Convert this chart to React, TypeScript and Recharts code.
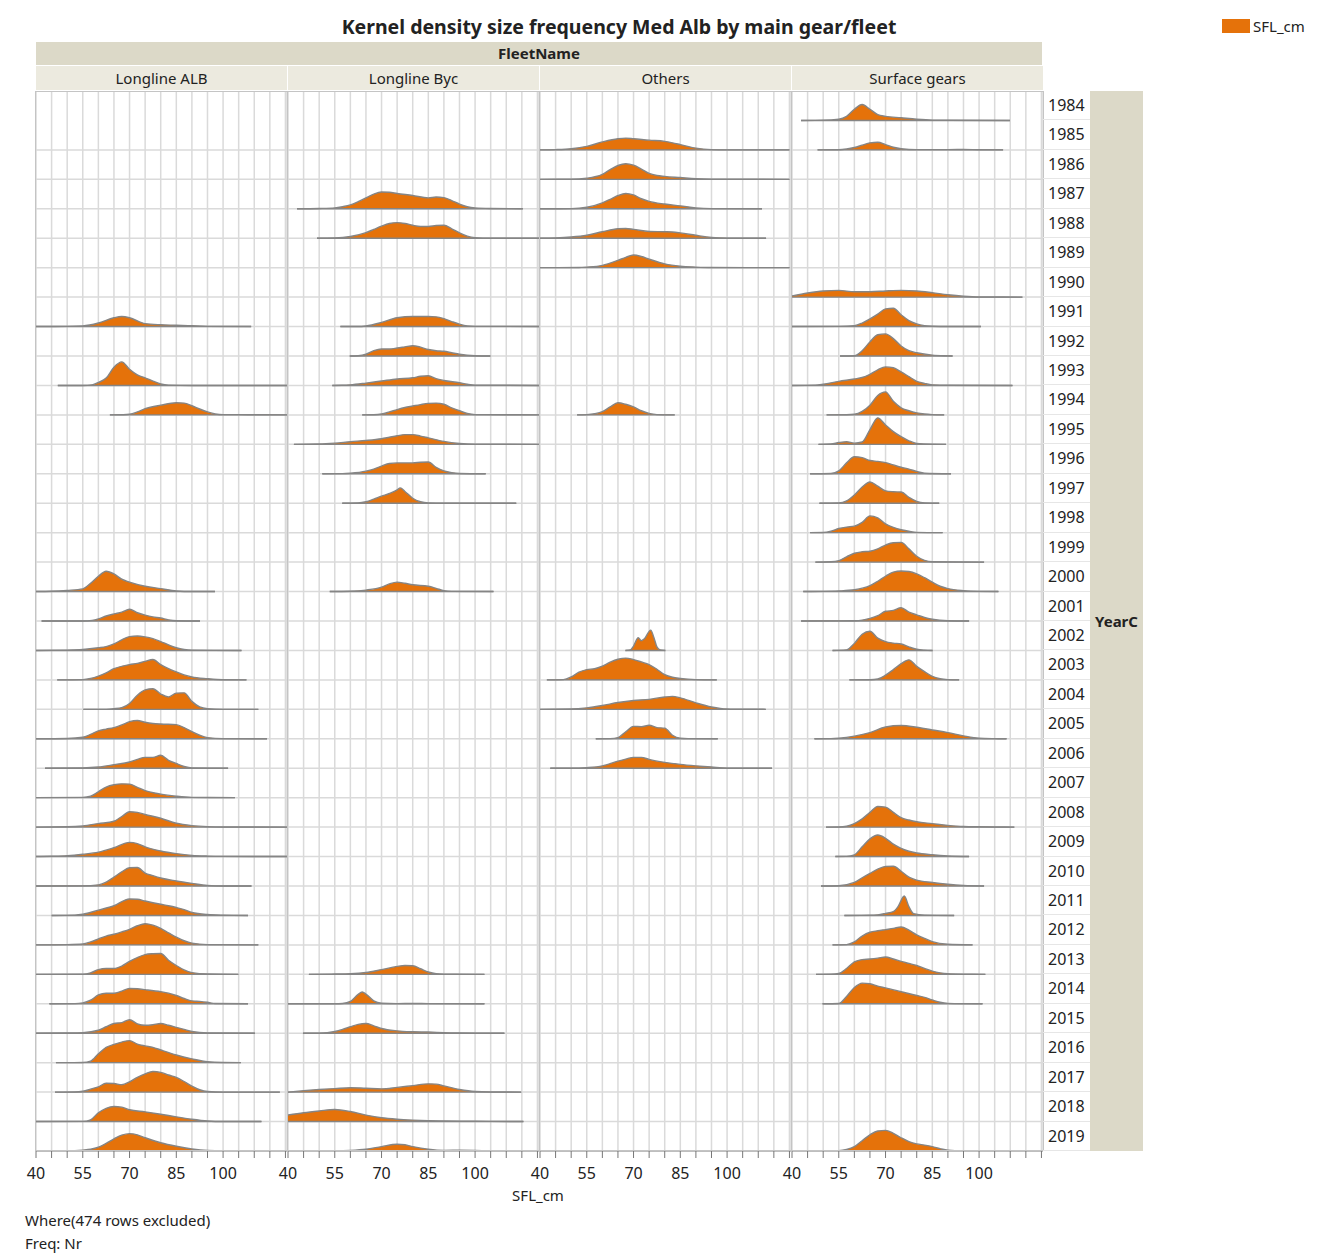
import React from 'react';
import { ComposedChart, Area, XAxis, YAxis, CartesianGrid } from 'recharts';

// categories
const years = [1984, 1985, 1986, 1987, 1988, 1989, 1990, 1991, 1992, 1993, 1994, 1995, 1996, 1997, 1998, 1999, 2000, 2001,
  2002, 2003, 2004, 2005, 2006, 2007, 2008, 2009, 2010, 2011, 2012, 2013, 2014, 2015, 2016, 2017, 2018, 2019];
const fleetNames = ['Longline ALB', 'Longline Byc', 'Others', 'Surface gears'];
const xTicks = [40, 45, 50, 55, 60, 65, 70, 75, 80, 85, 90, 95, 100, 105, 110, 115, 120];
const xLabels = [40, 55, 70, 85, 100];

// kernel density per year: [SFL_cm, density]
type Curve = { year: number; pts: number[][] };

const longlineAlb: Curve[] = [
  { year: 1991, pts: [[40,0],[50,0.005],[55,0.02],[60,0.12],[65,0.3],[67.5,0.34],[70,0.3],[75,0.1],[80,0.06],[85,0.045],[90,0.025],[95,0.005],[109,0]] },
  { year: 1993, pts: [[47,0],[55,0],[58,0.02],[60,0.1],[62.5,0.25],[65,0.62],[67.5,0.8],[70,0.55],[72.5,0.36],[75,0.26],[77.5,0.15],[80,0.05],[82.5,0.01],[90,0],[120.5,0]] },
  { year: 1994, pts: [[63.7,0],[68,0.005],[70,0.02],[72.5,0.1],[75,0.21],[80,0.33],[85,0.41],[87.5,0.4],[90,0.31],[92.5,0.2],[95,0.1],[97.5,0.03],[100,0.01],[105,0.01],[110,0.005],[120.5,0]] },
  { year: 2000, pts: [[40,0],[45,0.01],[50,0.04],[55,0.09],[57.5,0.28],[60,0.52],[62.5,0.69],[65,0.6],[67.5,0.42],[70,0.32],[75,0.18],[80,0.1],[85,0.02],[90,0],[97.4,0]] },
  { year: 2001, pts: [[41.8,0],[55,0],[58,0.02],[60,0.07],[62.5,0.17],[65,0.24],[67.5,0.3],[70,0.4],[72.5,0.28],[75,0.2],[77.5,0.14],[80,0.1],[82.5,0.04],[85,0.01],[92.6,0]] },
  { year: 2002, pts: [[40,0],[50,0.01],[55,0.03],[60,0.09],[62.5,0.13],[65,0.22],[67.5,0.36],[70,0.47],[72.5,0.49],[75,0.46],[77.5,0.4],[80,0.3],[82.5,0.19],[85,0.09],[87.5,0.03],[90,0.005],[105.9,0]] },
  { year: 2003, pts: [[46.8,0],[55,0.01],[57.5,0.05],[60,0.13],[62.5,0.24],[65,0.38],[70,0.52],[72.5,0.56],[75,0.63],[77.5,0.69],[80,0.52],[82.5,0.38],[85,0.27],[87.5,0.17],[90,0.1],[95,0.04],[100,0.005],[107.5,0]] },
  { year: 2004, pts: [[55.2,0],[62.5,0],[65,0.02],[67.5,0.06],[70,0.2],[72.5,0.48],[75,0.66],[77.5,0.7],[80,0.52],[82.5,0.42],[85,0.55],[87.5,0.56],[90,0.27],[92.5,0.08],[95,0.02],[100,0],[111.3,0]] },
  { year: 2005, pts: [[40,0],[50,0.01],[55,0.05],[57.5,0.15],[60,0.27],[62.5,0.33],[65,0.38],[67.5,0.47],[70,0.58],[72.5,0.62],[75,0.56],[77.5,0.52],[80,0.5],[85,0.48],[87.5,0.38],[90,0.24],[92.5,0.12],[95,0.04],[100,0.005],[114.1,0]] },
  { year: 2006, pts: [[42.9,0],[55,0.01],[60,0.04],[65,0.12],[70,0.21],[72.5,0.3],[75,0.37],[77.5,0.37],[80,0.44],[82.5,0.27],[85,0.16],[87.5,0.06],[90,0.01],[101.6,0]] },
  { year: 2007, pts: [[40,0],[55,0.01],[57.5,0.05],[60,0.2],[62.5,0.36],[65,0.44],[67.5,0.47],[70,0.46],[72.5,0.35],[75,0.24],[80,0.12],[85,0.05],[90,0.01],[103.8,0]] },
  { year: 2008, pts: [[40,0],[50,0.01],[55,0.04],[60,0.12],[65,0.2],[67.5,0.36],[70,0.52],[72.5,0.5],[75,0.43],[80,0.3],[85,0.13],[90,0.05],[95,0.015],[100,0.005],[120.5,0]] },
  { year: 2009, pts: [[40,0],[45,0.01],[50,0.03],[55,0.08],[60,0.15],[65,0.3],[70,0.48],[72.5,0.44],[75,0.33],[80,0.19],[85,0.1],[90,0.04],[95,0.015],[100,0.005],[120.5,0]] },
  { year: 2010, pts: [[40,0],[55,0.005],[60,0.04],[62.5,0.13],[65,0.3],[67.5,0.48],[70,0.62],[72.5,0.63],[75,0.44],[77.5,0.35],[80,0.27],[85,0.17],[90,0.09],[95,0.02],[100,0],[109.1,0]] },
  { year: 2011, pts: [[45,0],[52.5,0.01],[55,0.04],[60,0.18],[65,0.33],[70,0.56],[72.5,0.55],[75,0.49],[80,0.38],[82.5,0.33],[85,0.27],[87.5,0.2],[90,0.1],[95,0.03],[100,0.01],[108,0]] },
  { year: 2012, pts: [[40,0],[50,0.01],[55,0.03],[57.5,0.1],[60,0.2],[62.5,0.3],[65,0.36],[67.5,0.44],[70,0.53],[72.5,0.65],[75,0.72],[77.5,0.67],[80,0.56],[82.5,0.41],[85,0.26],[87.5,0.14],[90,0.06],[95,0.01],[111.3,0]] },
  { year: 2013, pts: [[40,0],[55,0.005],[57.5,0.05],[60,0.16],[62.5,0.2],[65,0.2],[67.5,0.28],[70,0.44],[72.5,0.57],[75,0.67],[77.5,0.7],[80,0.71],[82.5,0.48],[85,0.3],[87.5,0.15],[90,0.06],[95,0.01],[104.9,0]] },
  { year: 2014, pts: [[44.3,0],[52.5,0.005],[55,0.03],[57.5,0.12],[60,0.3],[62.5,0.36],[65,0.36],[67.5,0.43],[70,0.52],[72.5,0.51],[75,0.48],[80,0.41],[82.5,0.36],[85,0.28],[87.5,0.18],[90,0.1],[92.5,0.08],[95,0.05],[97.5,0.01],[108,0]] },
  { year: 2015, pts: [[40,0],[50,0.01],[55,0.02],[60,0.1],[62.5,0.22],[65,0.33],[67.5,0.36],[70,0.46],[72.5,0.32],[75,0.27],[77.5,0.29],[80,0.33],[82.5,0.27],[85,0.2],[87.5,0.13],[90,0.06],[95,0.01],[110.2,0]] },
  { year: 2016, pts: [[46.4,0],[55,0.005],[57.5,0.05],[60,0.3],[62.5,0.52],[65,0.62],[67.5,0.7],[70,0.75],[72.5,0.63],[75,0.57],[77.5,0.52],[80,0.43],[85,0.26],[90,0.13],[95,0.03],[100,0.005],[105.7,0]] },
  { year: 2017, pts: [[46.1,0],[52.5,0.005],[55,0.03],[57.5,0.1],[60,0.18],[62.5,0.3],[65,0.29],[67.5,0.25],[70,0.35],[72.5,0.5],[75,0.62],[77.5,0.7],[80,0.67],[82.5,0.58],[85,0.5],[87.5,0.36],[90,0.2],[92.5,0.08],[95,0.02],[100,0],[118.2,0]] },
  { year: 2018, pts: [[40,0],[55,0.005],[57.5,0.06],[60,0.3],[62.5,0.45],[65,0.51],[67.5,0.49],[70,0.4],[75,0.33],[80,0.25],[85,0.16],[90,0.08],[95,0.02],[100,0],[112.3,0]] },
  { year: 2019, pts: [[49.3,0],[52.5,0.01],[55,0.03],[57.5,0.06],[60,0.13],[62.5,0.26],[65,0.41],[67.5,0.54],[70,0.59],[72.5,0.55],[75,0.45],[80,0.28],[85,0.16],[90,0.07],[95,0.015],[100,0],[114.5,0]] },
];

const longlineByc: Curve[] = [
  { year: 1987, pts: [[42.9,0],[50,0.01],[55,0.03],[57.5,0.07],[60,0.13],[62.5,0.24],[65,0.37],[67.5,0.5],[70,0.57],[72.5,0.56],[75,0.52],[80,0.45],[85,0.37],[87.5,0.4],[90,0.38],[92.5,0.28],[95,0.16],[97.5,0.07],[100,0.03],[105,0.01],[115.3,0]] },
  { year: 1988, pts: [[49.3,0],[55,0.01],[60,0.06],[65,0.19],[67.5,0.3],[70,0.41],[72.5,0.5],[75,0.53],[77.5,0.5],[80,0.44],[82.5,0.4],[85,0.4],[87.5,0.43],[90,0.44],[92.5,0.32],[95,0.18],[97.5,0.07],[100,0.02],[105,0],[120.5,0]] },
  { year: 1991, pts: [[56.8,0],[62.5,0],[65,0.02],[70,0.14],[75,0.3],[80,0.34],[85,0.34],[87.5,0.33],[90,0.27],[92.5,0.17],[95,0.08],[97.5,0.02],[100,0.005],[110,0.005],[120.5,0]] },
  { year: 1992, pts: [[59.8,0],[62.5,0.01],[65,0.06],[67.5,0.18],[70,0.24],[72.5,0.24],[75,0.27],[77.5,0.31],[80,0.35],[82.5,0.3],[85,0.22],[87.5,0.18],[90,0.16],[92.5,0.11],[95,0.06],[100,0.01],[104.9,0]] },
  { year: 1993, pts: [[54.2,0],[57.5,0.005],[60,0.02],[65,0.08],[70,0.15],[75,0.22],[80,0.26],[82.5,0.31],[85,0.33],[87.5,0.23],[90,0.17],[95,0.09],[97.5,0.04],[100,0.01],[120.5,0]] },
  { year: 1994, pts: [[63.8,0],[67.5,0.005],[70,0.03],[72.5,0.1],[75,0.18],[77.5,0.25],[80,0.3],[82.5,0.35],[85,0.39],[87.5,0.4],[90,0.36],[92.5,0.24],[95,0.14],[97.5,0.05],[100,0.01],[110,0.005],[120.5,0]] },
  { year: 1995, pts: [[41.9,0],[50,0.01],[55,0.04],[60,0.09],[65,0.13],[70,0.19],[72.5,0.24],[75,0.29],[77.5,0.33],[80,0.33],[82.5,0.28],[85,0.22],[90,0.1],[95,0.03],[100,0.005],[120.5,0]] },
  { year: 1996, pts: [[51,0],[57.5,0.005],[60,0.02],[65,0.09],[67.5,0.16],[70,0.26],[72.5,0.35],[75,0.37],[80,0.37],[82.5,0.39],[85,0.4],[87.5,0.22],[90,0.1],[92.5,0.04],[95,0.01],[103.4,0]] },
  { year: 1997, pts: [[57.4,0],[62.5,0.01],[65,0.05],[67.5,0.14],[70,0.24],[72.5,0.33],[75,0.45],[76,0.52],[77.5,0.4],[80,0.17],[82.5,0.05],[85,0.01],[90,0],[113.2,0]] },
  { year: 2000, pts: [[53.4,0],[60,0.01],[65,0.05],[70,0.15],[72.5,0.26],[75,0.32],[77.5,0.28],[80,0.23],[85,0.18],[87.5,0.11],[90,0.03],[92.5,0.005],[105.9,0]] },
  { year: 2013, pts: [[46.7,0],[55,0.01],[60,0.02],[65,0.06],[70,0.16],[75,0.27],[77.5,0.3],[80,0.29],[82.5,0.19],[85,0.08],[87.5,0.02],[90,0.005],[103,0]] },
  { year: 2014, pts: [[40,0],[55,0],[57.5,0.01],[60,0.08],[62.5,0.32],[63.8,0.4],[65,0.33],[67.5,0.1],[70,0.02],[75,0.005],[80,0.01],[85,0.005],[103,0]] },
  { year: 2015, pts: [[44.8,0],[50,0.005],[55,0.06],[57.5,0.13],[60,0.22],[62.5,0.3],[65,0.33],[67.5,0.25],[70,0.16],[75,0.08],[80,0.05],[85,0.04],[90,0.02],[95,0.01],[100,0.005],[109.4,0]] },
  { year: 2017, pts: [[40,0],[45,0.05],[50,0.09],[55,0.12],[60,0.15],[65,0.13],[70,0.11],[75,0.16],[80,0.22],[85,0.28],[87.5,0.27],[90,0.21],[95,0.09],[100,0.02],[105,0.005],[114.8,0]] },
  { year: 2018, pts: [[40,0.22],[45,0.3],[50,0.36],[55,0.41],[60,0.34],[65,0.22],[70,0.13],[75,0.08],[80,0.05],[85,0.03],[90,0.02],[95,0.015],[100,0.01],[105,0.005],[115.5,0]] },
  { year: 2019, pts: [[47,0],[55,0.005],[60,0.02],[65,0.06],[70,0.15],[75,0.23],[77.5,0.21],[80,0.15],[85,0.06],[90,0.02],[95,0.025],[100,0.02],[105,0.005],[115.3,0]] },
];

const others: Curve[] = [
  { year: 1985, pts: [[40,0],[45,0.01],[50,0.04],[55,0.12],[60,0.27],[65,0.38],[67.5,0.4],[70,0.38],[75,0.33],[80,0.29],[82.5,0.24],[85,0.18],[90,0.06],[95,0.01],[100,0],[120,0]] },
  { year: 1986, pts: [[40,0],[50,0.005],[55,0.04],[60,0.17],[62.5,0.33],[65,0.47],[67.5,0.53],[70,0.48],[72.5,0.35],[75,0.2],[77.5,0.13],[80,0.1],[85,0.06],[90,0.02],[95,0.005],[120,0]] },
  { year: 1987, pts: [[40,0],[50,0.005],[55,0.05],[60,0.2],[62.5,0.32],[65,0.45],[67.5,0.52],[70,0.47],[72.5,0.34],[75,0.25],[80,0.16],[85,0.1],[90,0.03],[95,0.005],[111.2,0]] },
  { year: 1988, pts: [[40,0],[45,0.01],[50,0.04],[55,0.1],[60,0.22],[65,0.32],[67.5,0.33],[70,0.3],[75,0.23],[80,0.22],[82.5,0.21],[85,0.18],[90,0.1],[95,0.03],[100,0.005],[112.5,0]] },
  { year: 1989, pts: [[40,0],[52.5,0.005],[55,0.02],[60,0.08],[65,0.25],[67.5,0.35],[70,0.43],[72.5,0.38],[75,0.29],[80,0.13],[85,0.05],[90,0.02],[95,0.005],[120,0]] },
  { year: 1994, pts: [[51.9,0],[55,0.01],[57.5,0.04],[60,0.11],[62.5,0.27],[65,0.41],[67.5,0.36],[70,0.27],[72.5,0.14],[75,0.05],[77.5,0.01],[83.2,0]] },
  { year: 2002, pts: [[67.4,0],[69,0.02],[70,0.15],[71.5,0.43],[72.5,0.33],[73.5,0.4],[75.5,0.69],[76.5,0.45],[77.5,0.12],[78.5,0.02],[80.2,0]] },
  { year: 2003, pts: [[42.2,0],[47.5,0.01],[50,0.1],[52.5,0.26],[55,0.35],[57.5,0.38],[60,0.47],[62.5,0.6],[65,0.7],[67.5,0.74],[70,0.69],[72.5,0.61],[75,0.52],[77.5,0.36],[80,0.18],[82.5,0.09],[85,0.05],[90,0.01],[96.7,0]] },
  { year: 2004, pts: [[40,0],[50,0.01],[55,0.05],[60,0.13],[65,0.23],[70,0.3],[75,0.34],[80,0.42],[82.5,0.44],[85,0.39],[90,0.22],[95,0.08],[100,0.01],[105,0.005],[112.4,0]] },
  { year: 2005, pts: [[57.9,0],[62.5,0.005],[65,0.04],[67.5,0.24],[70,0.42],[72.5,0.41],[75,0.46],[77.5,0.38],[80,0.36],[82.5,0.12],[85,0.02],[87.5,0.005],[97,0]] },
  { year: 2006, pts: [[43.3,0],[52.5,0.005],[55,0.02],[60,0.08],[65,0.24],[67.5,0.31],[70,0.37],[72.5,0.37],[75,0.3],[80,0.2],[85,0.13],[90,0.08],[95,0.04],[100,0.005],[114.4,0]] },
];

const surfaceGears: Curve[] = [
  { year: 1984, pts: [[42.9,0],[50,0.005],[55,0.04],[57.5,0.14],[60,0.38],[62.5,0.54],[65,0.38],[67.5,0.2],[70,0.14],[75,0.09],[80,0.04],[85,0.01],[90,0.005],[109.9,0]] },
  { year: 1985, pts: [[48.2,0],[55,0.005],[57.5,0.03],[60,0.08],[62.5,0.16],[65,0.24],[67.5,0.26],[70,0.18],[72.5,0.09],[75,0.04],[80,0.01],[90,0.01],[95,0.015],[100,0.005],[107.7,0]] },
  { year: 1990, pts: [[40,0.04],[45,0.14],[50,0.21],[55,0.23],[60,0.18],[65,0.18],[70,0.21],[75,0.23],[80,0.21],[85,0.15],[90,0.08],[95,0.03],[100,0.005],[113.9,0]] },
  { year: 1991, pts: [[40,0],[55,0.005],[60,0.03],[62.5,0.12],[65,0.26],[67.5,0.42],[70,0.6],[72.5,0.62],[75,0.4],[77.5,0.2],[80,0.09],[82.5,0.03],[85,0.01],[90,0],[100.6,0]] },
  { year: 1992, pts: [[55.4,0],[60,0.01],[62.5,0.18],[65,0.48],[67.5,0.72],[70,0.75],[72.5,0.59],[75,0.34],[77.5,0.18],[80,0.11],[85,0.03],[90,0.005],[91.5,0]] },
  { year: 1993, pts: [[40,0],[47.5,0.01],[50,0.04],[55,0.14],[60,0.22],[62.5,0.27],[65,0.38],[67.5,0.53],[70,0.63],[72.5,0.6],[75,0.46],[77.5,0.3],[80,0.14],[82.5,0.07],[85,0.02],[90,0.005],[110.7,0]] },
  { year: 1994, pts: [[51.1,0],[57.5,0.005],[60,0.02],[62.5,0.12],[65,0.33],[67.5,0.66],[70,0.78],[72.5,0.46],[75,0.24],[77.5,0.14],[80,0.07],[82.5,0.03],[85,0.01],[88.8,0]] },
  { year: 1995, pts: [[48.5,0],[52.5,0.01],[55,0.06],[57.5,0.09],[60,0.04],[62.5,0.08],[65,0.5],[67.5,0.9],[70,0.66],[72.5,0.43],[75,0.26],[77.5,0.12],[80,0.03],[85,0.005],[89.4,0]] },
  { year: 1996, pts: [[45.8,0],[52.5,0.01],[55,0.1],[57.5,0.37],[60,0.58],[62.5,0.55],[65,0.45],[67.5,0.42],[70,0.38],[72.5,0.3],[75,0.22],[77.5,0.16],[80,0.08],[82.5,0.02],[91,0]] },
  { year: 1997, pts: [[48.8,0],[55,0.01],[57.5,0.08],[60,0.28],[62.5,0.55],[65,0.72],[67.5,0.58],[70,0.42],[72.5,0.39],[75,0.38],[77.5,0.2],[80,0.06],[82.5,0.01],[87.2,0]] },
  { year: 1998, pts: [[45.8,0],[50,0.005],[52.5,0.05],[55,0.14],[57.5,0.19],[60,0.22],[62.5,0.35],[65,0.57],[67.5,0.5],[70,0.3],[72.5,0.18],[75,0.1],[77.5,0.05],[80,0.01],[88.3,0]] },
  { year: 1999, pts: [[47.5,0],[52.5,0.01],[55,0.05],[57.5,0.18],[60,0.3],[62.5,0.35],[65,0.37],[67.5,0.45],[70,0.58],[72.5,0.66],[75,0.67],[77.5,0.45],[80,0.2],[82.5,0.06],[85,0.01],[101.6,0]] },
  { year: 2000, pts: [[43.6,0],[50,0.005],[55,0.02],[60,0.06],[65,0.2],[67.5,0.35],[70,0.52],[72.5,0.66],[75,0.7],[77.5,0.68],[80,0.6],[82.5,0.47],[85,0.32],[87.5,0.18],[90,0.1],[95,0.03],[100,0.005],[106.2,0]] },
  { year: 2001, pts: [[42.9,0],[55,0.005],[60,0.01],[62.5,0.03],[65,0.09],[67.5,0.18],[70,0.33],[72.5,0.36],[75,0.45],[77.5,0.3],[80,0.21],[82.5,0.12],[85,0.06],[90,0.01],[96.8,0]] },
  { year: 2002, pts: [[53,0],[57.5,0.02],[60,0.24],[62.5,0.55],[65,0.65],[67.5,0.42],[70,0.3],[72.5,0.25],[75,0.22],[77.5,0.12],[80,0.04],[82.5,0.01],[85.1,0]] },
  { year: 2003, pts: [[58.4,0],[65,0.005],[67.5,0.03],[70,0.16],[72.5,0.35],[75,0.55],[77.5,0.68],[80,0.46],[82.5,0.28],[85,0.12],[87.5,0.04],[90,0.01],[93.6,0]] },
  { year: 2005, pts: [[47.2,0],[52.5,0.005],[55,0.02],[60,0.09],[65,0.21],[70,0.4],[75,0.45],[80,0.39],[85,0.3],[90,0.21],[95,0.1],[100,0.02],[105,0.005],[108.8,0]] },
  { year: 2008, pts: [[50.9,0],[55,0.005],[57.5,0.03],[60,0.12],[62.5,0.28],[65,0.5],[67.5,0.7],[70,0.68],[72.5,0.5],[75,0.32],[77.5,0.24],[80,0.18],[85,0.12],[90,0.06],[95,0.02],[100,0.01],[105,0.005],[111.3,0]] },
  { year: 2009, pts: [[53.9,0],[57.5,0.005],[60,0.06],[62.5,0.33],[65,0.6],[67.5,0.73],[70,0.62],[72.5,0.42],[75,0.28],[77.5,0.18],[80,0.12],[85,0.06],[90,0.02],[96.8,0]] },
  { year: 2010, pts: [[49.3,0],[55,0.01],[60,0.12],[62.5,0.28],[65,0.43],[67.5,0.57],[70,0.66],[72.5,0.67],[75,0.5],[77.5,0.3],[80,0.2],[85,0.12],[90,0.06],[95,0.02],[101.6,0]] },
  { year: 2011, pts: [[56.8,0],[65,0.005],[67.5,0.02],[70,0.07],[72.5,0.13],[74,0.3],[76,0.66],[77.5,0.3],[79,0.06],[82.5,0.01],[92,0]] },
  { year: 2012, pts: [[53,0],[57.5,0.01],[60,0.1],[62.5,0.3],[65,0.43],[67.5,0.48],[70,0.52],[72.5,0.56],[75,0.61],[77.5,0.5],[80,0.34],[82.5,0.22],[85,0.11],[90,0.02],[97.9,0]] },
  { year: 2013, pts: [[47.7,0],[52.5,0.005],[55,0.03],[57.5,0.2],[60,0.42],[62.5,0.5],[65,0.52],[67.5,0.55],[70,0.59],[72.5,0.52],[75,0.44],[77.5,0.37],[80,0.3],[82.5,0.2],[85,0.11],[87.5,0.05],[90,0.02],[95,0.005],[102,0]] },
  { year: 2014, pts: [[49.8,0],[55,0.01],[57.5,0.25],[60,0.55],[62.5,0.7],[65,0.68],[67.5,0.6],[70,0.54],[75,0.41],[80,0.28],[82.5,0.22],[85,0.13],[87.5,0.05],[90,0.015],[101.1,0]] },
  { year: 2019, pts: [[49,0],[55,0.01],[57.5,0.05],[60,0.15],[62.5,0.35],[65,0.55],[67.5,0.68],[70,0.7],[72.5,0.6],[75,0.45],[77.5,0.32],[80,0.24],[82.5,0.2],[85,0.15],[87.5,0.08],[90,0.03],[95,0.01],[110,0]] },
];

const panels = [longlineAlb, longlineByc, others, surfaceGears];

const FONT = '"Noto Sans", "Open Sans", sans-serif';
const ORANGE = '#E5720A';
const STRIP_DARK = '#dcd9c8';
const STRIP_LIGHT = '#eceadf';

const plotTop = 91;
const plotH = 1060;
const rowH = plotH / years.length;
const panelLefts = [36, 288, 540, 792];
const panelW = 251;
const pad = 14;
const axisH = 44;
const rowTicks = years.map((_, i) => i).concat([years.length]);

const toArea = (c: Curve) => {
  const base = years.length - 1 - years.indexOf(c.year);
  return c.pts.map(([x, h]) => ({ x, v: [base, base + h] }));
};

const Panel: React.FC<{ curves: Curve[] }> = ({ curves }) => (
  <ComposedChart width={panelW + pad * 2} height={plotH + axisH} margin={{ top: 0, right: pad, bottom: 0, left: pad }}>
    <CartesianGrid stroke="#dadada" strokeWidth={1.5} />
    <XAxis
      type="number"
      dataKey="x"
      domain={[40, 120.5]}
      ticks={xTicks}
      interval={0}
      allowDataOverflow
      height={axisH}
      tickSize={7}
      tickMargin={10}
      tickLine={{ stroke: '#777' }}
      axisLine={{ stroke: '#999' }}
      tick={{ fontSize: 16, fill: '#222', fontFamily: FONT }}
      tickFormatter={(v: number) => (xLabels.includes(v) ? String(v) : '')}
    />
    <YAxis type="number" hide domain={[0, years.length]} ticks={rowTicks} allowDataOverflow />
    {curves.map((c) => (
      <Area
        key={c.year}
        data={toArea(c)}
        dataKey="v"
        type="monotone"
        fill={ORANGE}
        fillOpacity={1}
        stroke="#858585"
        strokeWidth={1.4}
        dot={false}
        activeDot={false}
        isAnimationActive={false}
      />
    ))}
  </ComposedChart>
);

export default function App() {
  return (
    <div style={{ position: 'absolute', left: 0, top: 0, width: 1344, height: 1258, background: '#fff', fontFamily: FONT, color: '#222', overflow: 'hidden' }}>
      <div style={{ position: 'absolute', left: 219, top: 13, width: 800, textAlign: 'center', fontSize: 19.5, fontWeight: 700, whiteSpace: 'nowrap' }}>
        Kernel density size frequency Med Alb by main gear/fleet
      </div>
      <div style={{ position: 'absolute', left: 1222, top: 19, width: 28, height: 14, background: ORANGE }} />
      <div style={{ position: 'absolute', left: 1253, top: 16, fontSize: 15 }}>SFL_cm</div>

      <div style={{ position: 'absolute', left: 36, top: 42, width: 1006, height: 23, background: STRIP_DARK, fontSize: 15, fontWeight: 700, textAlign: 'center', lineHeight: '23px' }}>
        FleetName
      </div>
      {fleetNames.map((f, i) => (
        <div key={f} style={{ position: 'absolute', left: panelLefts[i], top: 66, width: panelW, height: 24, background: STRIP_LIGHT, fontSize: 15, textAlign: 'center', lineHeight: '24px' }}>
          {f}
        </div>
      ))}

      {panels.map((curves, i) => (
        <div key={i} style={{ position: 'absolute', left: panelLefts[i] - pad, top: plotTop }}>
          <Panel curves={curves} />
        </div>
      ))}
      {panelLefts.map((l) => (
        <div key={l} style={{ position: 'absolute', left: l - 1, top: plotTop, width: panelW + 2, height: plotH, border: '1px solid #c4c4c4', boxSizing: 'border-box', pointerEvents: 'none' }} />
      ))}

      {years.map((y, i) => (
        <div key={y} style={{ position: 'absolute', left: 1043, top: plotTop + i * rowH, width: 47, height: rowH, lineHeight: `${rowH}px`, fontSize: 16, paddingLeft: 5, boxSizing: 'border-box', borderBottom: '1px solid #e6e6e6' }}>
          {y}
        </div>
      ))}
      <div style={{ position: 'absolute', left: 1090, top: plotTop, width: 53, height: plotH, background: STRIP_DARK, display: 'flex', alignItems: 'center', justifyContent: 'center', fontSize: 15, fontWeight: 700 }}>
        YearC
      </div>

      <div style={{ position: 'absolute', left: 438, top: 1185, width: 200, textAlign: 'center', fontSize: 15 }}>SFL_cm</div>
      <div style={{ position: 'absolute', left: 25, top: 1210, fontSize: 15 }}>Where(474 rows excluded)</div>
      <div style={{ position: 'absolute', left: 25, top: 1233, fontSize: 15 }}>Freq: Nr</div>
    </div>
  );
}
